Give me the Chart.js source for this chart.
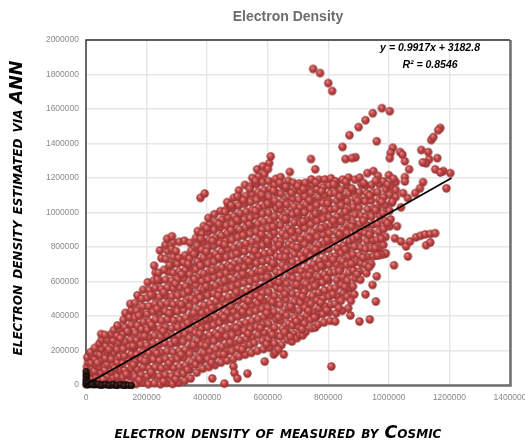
<!DOCTYPE html>
<html><head><meta charset="utf-8">
<script src="https://cdn.jsdelivr.net/npm/chart.js@4"></script>
<style>html,body{margin:0;padding:0;background:#fff}canvas{display:block}</style>
</head><body><canvas id="c" width="525" height="446" style="width:525px;height:446px"></canvas>
<script>
// every pair is [measured, estimated] in thousands
const axisOrigin=[[0,2],[6,1],[14,3],[24,1],[34,2],[46,0],[58,2],[70,0],[84,1],[96,-1],[108,1],[120,0],[132,1],[1,14],[0,28],[1,44],[8,10],[16,12],[28,9],[20,4],[40,5],[52,-2],[64,5],[77,-2],[90,4],[102,-3],[114,3],[126,-3],[2,60],[0,78],[140,-2],[150,-3]];
const cloudA=[[3,6],[5,30],[2,55],[6,80],[3,105],[7,130],[4,160],[16,12],[19,40],[14,70],[20,98],[17,128],[21,165],[15,190],
[31,8],[34,45],[28,80],[35,112],[30,148],[36,180],[29,215],[47,5],[44,38],[50,70],[43,105],[49,140],[46,175],[52,210],[44,240],[52,262],[50,295],
[66,10],[70,48],[63,85],[69,120],[64,155],[71,190],[66,225],[70,262],[63,290],[86,6],[90,42],[83,78],[89,115],[84,150],[92,185],[85,222],[90,258],[84,295],[92,318],
[107,9],[103,50],[110,88],[104,128],[111,165],[102,205],[109,245],[103,285],[110,322],[104,345],[125,4],[122,45],[128,85],[121,125],[127,168],[123,208],[129,250],[122,292],[128,335],[124,378],[130,418],
[146,12],[142,55],[149,95],[143,138],[150,178],[144,222],[148,262],[142,305],[149,348],[144,392],[150,432],[146,470],[166,6],[162,48],[169,90],[163,132],[168,175],[161,218],[167,260],[163,302],[170,345],[162,388],[168,430],[163,475],[170,520],
[186,14],[182,58],[189,102],[183,146],[188,190],[181,234],[187,278],[183,322],[190,366],[182,410],[188,455],[184,500],[189,552],[206,5],[202,50],[209,95],[203,140],[208,185],[201,230],[207,275],[203,320],[210,365],[202,410],[208,455],[203,505],[209,550],[204,595],
[226,10],[222,56],[229,102],[223,148],[228,194],[221,240],[227,286],[223,332],[230,378],[222,424],[228,470],[223,516],[229,562],[224,605],[230,650],[225,692],[246,4],[242,50],[249,96],[243,142],[248,188],[241,234],[247,280],[243,326],[250,372],[242,418],[248,464],[243,510],[249,556],[243,604],[240,650],[249,735],[244,780],
[266,12],[262,58],[269,104],[263,150],[268,196],[261,242],[267,288],[263,334],[270,380],[262,426],[268,472],[263,518],[269,564],[263,610],[272,656],[264,730],[270,775],[262,812],[268,848],[286,6],[282,52],[289,98],[283,144],[288,190],[281,236],[287,282],[283,328],[290,374],[282,420],[288,466],[283,512],[289,558],[283,604],[288,650],[282,696],[289,742],[283,788],[288,828],[284,862]];
const cloudB=[[306,14],[302,58],[309,104],[303,150],[308,196],[301,242],[307,288],[303,334],[310,380],[302,426],[308,472],[303,518],[309,564],[303,610],[308,656],[302,702],[306,738],[308,830],[326,24],[322,66],[329,112],[323,158],[328,204],[321,250],[327,296],[323,342],[330,388],[322,434],[328,480],[323,526],[329,572],[323,618],[328,664],[322,710],[327,752],[325,836],
[346,38],[342,88],[349,134],[343,180],[348,226],[341,272],[347,318],[343,364],[350,410],[342,456],[348,502],[343,548],[349,594],[343,640],[348,686],[342,732],[347,778],[344,824],[366,72],[362,118],[369,164],[363,210],[368,256],[361,302],[367,348],[363,394],[370,440],[362,486],[368,532],[363,578],[369,624],[363,670],[368,716],[362,762],[367,808],[363,852],[369,892],
[386,95],[382,140],[389,186],[383,232],[388,278],[381,324],[387,370],[383,416],[390,462],[382,508],[388,554],[383,600],[389,646],[383,692],[388,738],[382,784],[387,830],[383,876],[389,922],[378,1085],[392,1110],[406,104],[402,150],[409,196],[403,242],[408,288],[401,334],[407,380],[403,426],[410,472],[402,518],[408,564],[403,610],[409,656],[403,702],[408,748],[402,794],[407,840],[403,886],[409,932],[404,968],
[417,38],[426,115],[422,162],[429,208],[423,254],[428,300],[421,346],[427,392],[423,438],[430,484],[422,530],[428,576],[423,622],[429,668],[423,714],[428,760],[422,806],[427,852],[423,898],[429,944],[424,990],[446,130],[442,176],[449,222],[443,268],[448,314],[441,360],[447,406],[443,452],[450,498],[442,544],[448,590],[443,636],[449,682],[443,728],[448,774],[442,820],[447,866],[443,912],[449,958],[444,1008],
[457,8],[466,142],[462,188],[469,234],[463,280],[468,326],[461,372],[467,418],[463,464],[470,510],[462,556],[468,602],[463,648],[469,694],[463,740],[468,786],[462,832],[467,878],[463,924],[469,970],[464,1016],[470,1050],[466,1060],[486,150],[482,196],[489,242],[483,288],[488,334],[481,380],[487,426],[483,472],[490,518],[482,564],[488,610],[483,656],[489,702],[483,748],[488,794],[482,840],[487,886],[483,932],[489,978],[484,1024],[488,1085],[487,107],[490,70],[500,38],
[506,166],[502,212],[509,258],[503,304],[508,350],[501,396],[507,442],[503,488],[510,534],[502,580],[508,626],[503,672],[509,718],[503,764],[508,810],[502,856],[507,902],[503,948],[509,994],[504,1040],[508,1085],[505,1128],[533,66],[526,176],[522,222],[529,268],[523,314],[528,360],[521,406],[527,452],[523,498],[530,544],[522,590],[528,636],[523,682],[529,728],[523,774],[528,820],[522,866],[527,912],[523,958],[529,1004],[524,1050],[528,1096],[525,1160],
[546,186],[542,232],[549,278],[543,324],[548,370],[541,416],[547,462],[543,508],[550,554],[542,600],[548,646],[543,692],[549,738],[543,784],[548,830],[542,876],[547,922],[543,968],[549,1014],[544,1060],[548,1106],[543,1152],[549,1200],[566,198],[568,290],[563,336],[568,382],[561,428],[567,474],[563,520],[570,566],[562,612],[568,658],[563,704],[569,750],[563,796],[568,842],[562,888],[567,934],[563,980],[569,1026],[564,1072],[568,1118],[563,1164],[570,1208],[565,1250],
[590,136],[586,208],[582,256],[589,302],[583,348],[588,394],[581,440],[587,486],[583,532],[590,578],[582,624],[588,670],[583,716],[589,762],[583,808],[588,854],[582,900],[587,946],[583,992],[589,1038],[584,1084],[588,1130],[583,1176],[589,1222],[584,1268]];
const cloudC=[[620,177],[606,216],[602,262],[609,308],[603,354],[608,400],[601,446],[607,492],[603,538],[610,584],[602,630],[608,676],[603,722],[609,768],[603,814],[608,860],[602,906],[607,952],[603,998],[609,1044],[604,1090],[608,1136],[603,1182],[605,1285],[610,1325],[626,190],[622,240],[629,286],[623,332],[628,378],[621,424],[627,470],[623,516],[630,562],[622,608],[628,654],[623,700],[629,746],[623,792],[628,838],[622,884],[627,930],[623,976],[629,1022],[624,1068],[628,1114],[623,1160],[627,1195],
[653,177],[646,232],[642,280],[649,326],[643,372],[648,418],[641,464],[647,510],[643,556],[650,602],[642,648],[648,694],[643,740],[649,786],[643,832],[648,878],[642,924],[647,970],[643,1016],[649,1062],[644,1108],[648,1154],[643,1205],[666,262],[662,310],[669,356],[663,402],[668,448],[661,494],[667,540],[663,586],[670,632],[662,678],[668,724],[663,770],[669,816],[663,862],[668,908],[662,954],[667,1000],[663,1046],[669,1092],[664,1138],[668,1184],[673,1235],
[680,252],[686,296],[682,344],[689,390],[683,436],[688,482],[681,528],[687,574],[683,620],[690,666],[682,712],[688,758],[683,804],[689,850],[683,896],[688,942],[682,988],[687,1034],[683,1080],[689,1126],[684,1172],[697,272],[706,290],[702,338],[709,384],[703,430],[708,476],[701,522],[707,568],[703,614],[710,660],[702,706],[708,752],[703,798],[709,844],[703,890],[708,936],[702,982],[707,1028],[703,1074],[709,1120],[704,1168],
[716,288],[726,308],[722,356],[729,402],[723,448],[728,494],[721,540],[727,586],[723,632],[730,678],[722,724],[728,770],[723,816],[729,862],[723,908],[728,954],[722,1000],[727,1046],[723,1092],[729,1138],[724,1172],[746,330],[742,378],[749,424],[743,470],[748,516],[741,562],[747,608],[743,654],[750,700],[742,746],[748,792],[743,838],[749,884],[743,930],[748,976],[742,1022],[747,1068],[743,1114],[749,1160],[744,1192],[743,1310],[757,1250],
[757,333],[766,350],[762,398],[769,444],[763,490],[768,536],[761,582],[767,628],[763,674],[770,720],[762,766],[768,812],[763,858],[769,904],[763,950],[768,996],[762,1042],[767,1088],[763,1134],[769,1190],[786,362],[782,410],[789,456],[783,502],[788,548],[781,594],[787,640],[783,686],[790,732],[782,778],[788,824],[783,870],[789,916],[783,962],[788,1008],[782,1054],[787,1100],[783,1146],[789,1192],
[806,372],[802,420],[809,466],[803,512],[808,558],[801,604],[807,650],[803,696],[810,742],[802,788],[808,834],[803,880],[809,926],[803,972],[808,1018],[802,1064],[807,1110],[803,1156],[809,1198],[823,368],[826,415],[822,470],[829,516],[823,562],[828,608],[821,654],[827,700],[823,746],[830,792],[822,838],[828,884],[823,930],[829,976],[823,1022],[828,1068],[822,1114],[827,1158],[824,1180],
[846,430],[842,488],[849,534],[843,580],[848,626],[841,672],[847,718],[843,764],[850,810],[842,856],[848,902],[843,948],[849,994],[843,1040],[848,1086],[842,1132],[847,1190],[873,403],[866,445],[862,512],[869,558],[863,604],[868,650],[861,696],[867,742],[863,788],[870,834],[862,880],[868,926],[863,972],[869,1018],[863,1064],[868,1110],[862,1156],[867,1202],[886,525],[882,572],[889,618],[883,664],[888,710],[881,756],[887,802],[883,848],[890,894],[882,940],[888,986],[883,1032],[889,1078],[883,1124],[888,1190],
[903,368],[906,610],[902,658],[909,704],[903,750],[908,796],[901,842],[907,888],[903,934],[910,980],[902,1026],[908,1072],[903,1118],[909,1164],[904,1202],[923,525],[926,648],[922,696],[929,742],[923,788],[928,834],[921,880],[927,926],[923,972],[930,1018],[922,1064],[928,1110],[923,1156],[929,1228],[937,380],[946,580],[942,700],[949,746],[943,792],[948,838],[941,884],[947,930],[943,976],[950,1022],[942,1068],[948,1114],[943,1160],[949,1240],
[957,484],[960,630],[963,752],[968,795],[961,842],[967,888],[963,934],[970,980],[962,1026],[968,1072],[963,1118],[969,1164],[964,1212],[985,760],[982,812],[989,858],[983,904],[988,950],[981,996],[987,1042],[983,1088],[990,1134],[982,1180],[1000,1216],[1003,920],[1006,960],[1002,1010],[1009,1056],[1003,1102],[1008,1148],[1023,1176],[1023,1130],[1023,1090],[1027,920],[1040,1030]];
const cloudD=[[750,1832],[773,1808],[800,1750],[813,1704],[847,1380],[870,1448],[900,1495],[923,1535],[947,1575],[977,1605],[1003,1587],[960,1413],[857,1310],[890,1320],[878,1315],[1013,1375],[1006,1345],[1003,1315],[1037,1350],[1045,1335],[1053,1297],[1067,1250],[1107,1362],[1130,1350],[1133,1308],[1123,1285],[1112,1290],[1160,1315],[1153,1250],[1180,1240],[1170,1232],[1203,1228],[1190,1140],[1140,1420],[1147,1437],[1170,1490],[1163,1477],[1113,1176],[1103,1140],[1087,1112],[1063,1083],[1047,1112],[1053,1205],[1053,1180],[1020,850],[1040,832],[1057,803],[1063,745],[1070,832],[1090,856],[1105,865],[1120,873],[1137,875],[1153,880],[1123,810],[1137,826],[1017,694],[990,763],[975,755],[963,752],[810,107]];
const cloudE=[[38,128],[57,31],[76,205],[95,97],[114,271],[133,63],[137,311],[155,226],[156,117],[175,402],[176,29],[194,283],[195,139],[214,522],[215,74],[216,348],[234,183],[235,441],[236,611],[255,312],[256,21],[257,537],[258,668],[274,126],[275,415],[276,694],[294,253],[295,587],[296,33],[297,776],[314,176],[315,466],[316,641],[335,88],[336,359],[337,543],[338,701],[355,231],[356,417],[357,759],[358,612],[375,151],[376,296],[377,505],[378,692],[379,847],[395,384],[396,227],[397,572],[398,773],[399,908],[415,129],[416,445],[417,662],[418,835],[436,286],[437,518],[438,739],[439,932],[455,177],[456,391],[457,604],[458,813],[459,1003],[476,246],[477,458],[478,681],[479,897],[480,1041],[496,331],[497,539],[498,762],[499,956],[500,1094],[516,205],[517,424],[518,643],[519,868],[520,1071],[536,297],[537,487],[538,716],[539,931],[540,1137],[556,244],[557,561],[558,778],[559,1009],[560,1183],[576,331],[577,503],[578,659],[579,872],[580,1102],[596,236],[597,417],[598,624],[599,833],[600,1051],[601,1252],[615,292],[616,481],[617,707],[618,918],[619,1126],[635,207],[636,393],[637,596],[638,811],[639,1043],[640,1172],[656,306],[657,527],[658,741],[659,963],[660,1149],[675,281],[676,454],[677,661],[678,887],[679,1113],[695,368],[696,582],[697,796],[698,1002],[699,1153],[714,323],[715,513],[716,729],[717,948],[718,1135],[735,431],[736,634],[737,851],[738,1071],[755,392],[756,574],[757,782],[758,993],[759,1174],[775,477],[776,691],[777,908],[778,1123],[795,433],[796,618],[797,839],[798,1052],[815,526],[816,727],[817,951],[818,1162],[835,447],[836,661],[837,873],[838,1091],[855,569],[856,786],[857,1004],[858,1178],[875,487],[876,703],[877,918],[878,1139],[895,642],[896,861],[897,1067],[915,739],[916,952],[917,1171],[935,683],[936,871],[937,1098],[955,794],[956,1013],[957,1184],[975,848],[976,1061],[995,938],[996,1162],[1012,1062],[1015,1196]];
const trendX=[0,1207];
const trendY=[3.18,1200.2];
const xTicks=[0,200000,400000,600000,800000,1000000,1200000,1400000];
const yTicks=[0,200000,400000,600000,800000,1000000,1200000,1400000,1600000,1800000,2000000];
const eqLines=['y = 0.9917x + 3182.8','R² = 0.8546'];
const chartTitle='Electron Density';
const xTitle='electron density of measured by Cosmic';
const yTitle='electron density estimated via ANN';
const titleFont='italic small-caps bold 17.5px "DejaVu Sans"';

function sphere(r,mid,rim,hi){
  const s=Math.ceil(r*2+2),c=document.createElement('canvas');
  c.width=s;c.height=s;
  const g=c.getContext('2d'),m=s/2;
  const rg=g.createRadialGradient(m-r*.3,m-r*.4,r*.1,m,m,r);
  rg.addColorStop(0,hi);rg.addColorStop(.5,mid);rg.addColorStop(1,rim);
  g.fillStyle=rg;g.beginPath();g.arc(m,m,r,0,7);g.fill();
  return c;
}
const ball=sphere(4.2,'#bd4242','#8f3232','#e98684');
const dark=sphere(3.5,'#2a1414','#0c0808','#5a3030');
const toPts=a=>a.map(p=>({x:p[0]*1000,y:p[1]*1000}));
const scatter=a=>({type:'scatter',data:toPts(a),pointStyle:ball,pointRadius:4,clip:false,showLine:false,order:2});

const frame={id:'frame',
  beforeDatasetsDraw(ch){const a=ch.chartArea,g=ch.ctx;g.save();
    g.strokeStyle='#6e6e6e';g.lineWidth=2.5;g.beginPath();g.moveTo(a.right+.5,a.top);g.lineTo(a.right+.5,a.bottom+.5);g.lineTo(a.left,a.bottom+.5);g.stroke();
    g.strokeStyle='#2e2e2e';g.lineWidth=1.4;g.beginPath();g.moveTo(a.left,a.bottom);g.lineTo(a.left,a.top);g.lineTo(a.right,a.top);g.stroke();
    g.restore();},
  afterDraw(ch){const g=ch.ctx,x=ch.scales.x,y=ch.scales.y;g.save();
    g.textAlign='center';g.textBaseline='middle';
    g.fillStyle='#6d6d6d';g.font='bold 14px "Liberation Sans"';g.fillText(chartTitle,288,17);
    g.fillStyle='#000';g.font='italic bold 10.5px "Liberation Sans"';
    g.fillText(eqLines[0],x.getPixelForValue(1136000),y.getPixelForValue(1955000));
    g.fillText(eqLines[1],x.getPixelForValue(1136000),y.getPixelForValue(1855000));
    g.font=titleFont;
    g.fillText(xTitle,278,433);
    g.translate(17,208);g.rotate(-Math.PI/2);g.fillText(yTitle,0,0);
    g.restore();}
};
new Chart(document.getElementById('c'),{
  data:{datasets:[
    {type:'line',data:trendX.map((v,i)=>({x:v*1000,y:trendY[i]*1000})),borderColor:'#000',borderWidth:1.8,pointRadius:0,order:0,clip:false},
    {type:'scatter',data:toPts(axisOrigin),pointStyle:dark,pointRadius:3.5,clip:false,order:1},
    scatter(cloudD),scatter(cloudE),scatter(cloudC),scatter(cloudB),scatter(cloudA)
  ]},
  plugins:[frame],
  options:{responsive:false,animation:false,devicePixelRatio:1,
    layout:{padding:{left:0,right:15,top:40,bottom:0}},
    plugins:{legend:{display:false},tooltip:{enabled:false},title:{display:false}},
    scales:{
      x:{type:'linear',min:0,max:1400000,afterBuildTicks(s){s.ticks=xTicks.map(v=>({value:v}))},
        afterFit(s){s.height=61;s.paddingRight=0;s.paddingLeft=0},
        grid:{color:'#e6e6e6',lineWidth:1.4,drawTicks:false},border:{display:false},
        ticks:{color:'#8a8a8a',font:{family:'"Liberation Sans"',size:8.5},maxRotation:0,autoSkip:false,padding:8,callback:v=>String(v)}},
      y:{min:0,max:2000000,afterBuildTicks(s){s.ticks=yTicks.map(v=>({value:v}))},
        afterFit(s){s.width=86;s.paddingTop=0;s.paddingBottom=0},
        grid:{color:'#e6e6e6',lineWidth:1.4,drawTicks:false},border:{display:false},
        ticks:{color:'#8a8a8a',font:{family:'"Liberation Sans"',size:8.5},autoSkip:false,padding:7,callback:v=>String(v)}}
    }}
});
</script></body></html>
